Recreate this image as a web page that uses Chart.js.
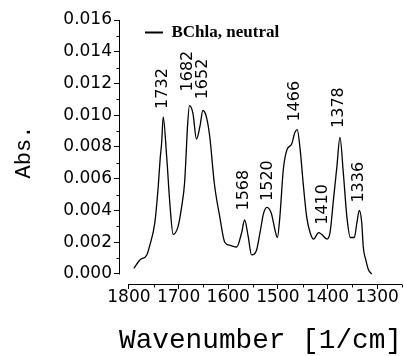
<!DOCTYPE html>
<html>
<head>
<meta charset="utf-8">
<script src="https://cdn.jsdelivr.net/npm/chart.js@4.4.1/dist/chart.umd.min.js"></script>
<style>
    html, body { margin: 0; padding: 0; background: #fff; }
    #caixa { width: 404px; height: 356px; }
</style>
</head>
<body>
<div id="caixa"><canvas id="grafico-espectro"></canvas></div>
<script>
// ================= DADOS =================
const wavenumbers = [1790, 1778, 1764, 1758, 1748, 1741, 1737, 1734, 1731, 1724,
    1717, 1711, 1701, 1694, 1688, 1685, 1682, 1678, 1671, 1664,
    1657, 1651, 1644, 1637, 1628, 1617, 1607, 1596, 1583, 1573,
    1567, 1560, 1553, 1543, 1536, 1529, 1522, 1513, 1506, 1501,
    1496, 1489, 1482, 1472, 1466, 1461, 1455, 1449, 1442, 1435,
    1428, 1418, 1412, 1401, 1395, 1388, 1381, 1375, 1368, 1361,
    1354, 1346, 1341, 1336, 1331, 1328, 1323, 1318, 1311];

const absorbance = [0.00036, 0.00088, 0.0012, 0.0018, 0.0032, 0.0055, 0.0073, 0.0083, 0.0099, 0.0074,
    0.0042, 0.0025, 0.0030, 0.0042, 0.0057, 0.0074, 0.0093, 0.0106, 0.0101, 0.0085,
    0.0093, 0.0103, 0.0099, 0.0086, 0.0057, 0.0036, 0.0020, 0.0018, 0.0017, 0.0026,
    0.0034, 0.0024, 0.0012, 0.0015, 0.0026, 0.0038, 0.0042, 0.0038, 0.0028, 0.0023,
    0.0036, 0.0066, 0.0078, 0.0082, 0.0089, 0.0091, 0.0078, 0.0057, 0.0036, 0.0026,
    0.0022, 0.0026, 0.0025, 0.0022, 0.0026, 0.0047, 0.0068, 0.0086, 0.0063, 0.0036,
    0.0023, 0.0023, 0.0032, 0.0040, 0.0032, 0.0017, 0.0009, 0.0003, 0.0000];

const serieNome = "BChla, neutral";

const xTickValues = [1800, 1700, 1600, 1500, 1400, 1300];
const yTickValues = [0, 0.002, 0.004, 0.006, 0.008, 0.010, 0.012, 0.014, 0.016];

// picos marcados: texto e nivel (Abs.) onde o rotulo comeca
const peakLabels = ["1732", "1682", "1652", "1568", "1520", "1466", "1410", "1378", "1336"];
const peakLabelLevel = [0.0104, 0.0115, 0.0110, 0.0040, 0.0046, 0.0096, 0.0031, 0.0092, 0.0045];

// ================= PLUGINS =================
// linhas dos eixos (separadas, estilo Origin) e ticks menores
const eixos = {
    id: "eixos",
    afterDraw(chart) {
        const { ctx, chartArea, scales: { x, y } } = chart;
        ctx.save();
        ctx.strokeStyle = "#000";
        ctx.lineWidth = 1;
        ctx.beginPath();

        const xl = Math.round(chartArea.left) + 0.5;
        const yTop = y.getPixelForValue(yTickValues[yTickValues.length - 1]);
        const yBot = y.getPixelForValue(yTickValues[0]);
        ctx.moveTo(xl, Math.round(yTop));
        ctx.lineTo(xl, Math.round(yBot) + 0.5);
        for (let i = 0; i < yTickValues.length - 1; i++) {
            const py = Math.round(y.getPixelForValue((yTickValues[i] + yTickValues[i + 1]) / 2)) + 0.5;
            ctx.moveTo(xl, py);
            ctx.lineTo(xl - 3, py);
        }

        const yb = Math.round(chartArea.bottom) + 0.5;
        ctx.moveTo(Math.round(x.getPixelForValue(xTickValues[0])), yb);
        ctx.lineTo(chartArea.right, yb);
        const passo = xTickValues[0] - xTickValues[1];
        for (let i = 0; i < xTickValues.length; i++) {
            const v = xTickValues[i] - passo / 2;
            const px = Math.round(x.getPixelForValue(v)) + 0.5;
            if (px > chartArea.right + 1) continue;
            ctx.moveTo(px, yb);
            ctx.lineTo(px, yb + 3);
        }
        ctx.stroke();
        ctx.restore();
    }
};

// rotulos verticais dos picos
const rotulosPicos = {
    id: "rotulosPicos",
    afterDatasetsDraw(chart) {
        const { ctx, scales: { x, y } } = chart;
        ctx.save();
        ctx.fillStyle = "#000";
        ctx.font = "16px 'DejaVu Sans'";
        ctx.textAlign = "left";
        ctx.textBaseline = "middle";
        peakLabels.forEach((txt, i) => {
            const px = x.getPixelForValue(Number(txt));
            const py = y.getPixelForValue(peakLabelLevel[i]);
            ctx.save();
            ctx.translate(px, py);
            ctx.rotate(-Math.PI / 2);
            ctx.fillText(txt, 0, 0);
            ctx.restore();
        });
        ctx.restore();
    }
};

// coloca a legenda dentro da area do grafico, perto do canto
const posLegenda = {
    id: "posLegenda",
    afterLayout(chart) {
        if (!chart.legend) return;
        chart.legend.left = 145;
        chart.legend.top = 24;
    }
};

// ================= GRAFICO =================
const pontos = wavenumbers.map((w, i) => ({ x: w, y: absorbance[i] }));

new Chart(document.getElementById("grafico-espectro"), {
    type: "line",
    data: {
        datasets: [{
            label: serieNome,
            data: pontos,
            borderColor: "#000",
            backgroundColor: "#000",
            borderWidth: 1.3,
            pointRadius: 0,
            fill: false,
            cubicInterpolationMode: "monotone"
        }]
    },
    options: {
        responsive: true,
        maintainAspectRatio: false,
        animation: false,
        devicePixelRatio: 1,
        layout: { padding: { left: 0, top: 20, right: 2, bottom: 0 } },
        plugins: {
            tooltip: { enabled: false },
            legend: {
                position: "chartArea",
                align: "start",
                labels: {
                    color: "#000",
                    padding: 0,
                    usePointStyle: true,
                    pointStyle: "line",
                    pointStyleWidth: 18,
                    font: { family: "'Liberation Serif'", size: 17, weight: "bold" },
                    generateLabels(chart) {
                        const itens = Chart.defaults.plugins.legend.labels.generateLabels(chart);
                        itens.forEach(it => { it.lineWidth = 2; it.strokeStyle = "#000"; });
                        return itens;
                    }
                }
            }
        },
        scales: {
            x: {
                type: "linear",
                reverse: true,
                min: 1250,
                max: 1820,
                afterBuildTicks: s => { s.ticks = xTickValues.map(v => ({ value: v })); },
                afterFit: s => { s.height = 72; },
                border: { display: false },
                grid: { display: true, drawOnChartArea: false, drawTicks: true, tickLength: 5, tickColor: "#000" },
                ticks: {
                    color: "#000",
                    padding: -2,
                    maxRotation: 0,
                    autoSkip: false,
                    font: { family: "'DejaVu Sans'", size: 17 },
                    callback: v => String(v)
                },
                title: {
                    display: true,
                    text: "Wavenumber [1/cm]",
                    color: "#000",
                    font: { family: "'Liberation Mono'", size: 28, lineHeight: 1 },
                    padding: { top: 0, bottom: 1 }
                }
            },
            y: {
                type: "linear",
                min: -0.00063,
                max: 0.016,
                afterBuildTicks: s => { s.ticks = yTickValues.map(v => ({ value: v })); },
                afterFit: s => { s.width = 119; },
                border: { display: false },
                grid: { display: true, drawOnChartArea: false, drawTicks: true, tickLength: 5, tickColor: "#000" },
                ticks: {
                    color: "#000",
                    padding: 2,
                    autoSkip: false,
                    font: { family: "'DejaVu Sans'", size: 17 },
                    callback: v => v.toFixed(3)
                },
                title: {
                    display: true,
                    text: "Abs.",
                    color: "#000",
                    font: { family: "'Liberation Mono'", size: 22, lineHeight: 1.2 },
                    padding: { top: 11, bottom: 0 }
                }
            }
        }
    },
    plugins: [eixos, rotulosPicos, posLegenda]
});
</script>
</body>
</html>
